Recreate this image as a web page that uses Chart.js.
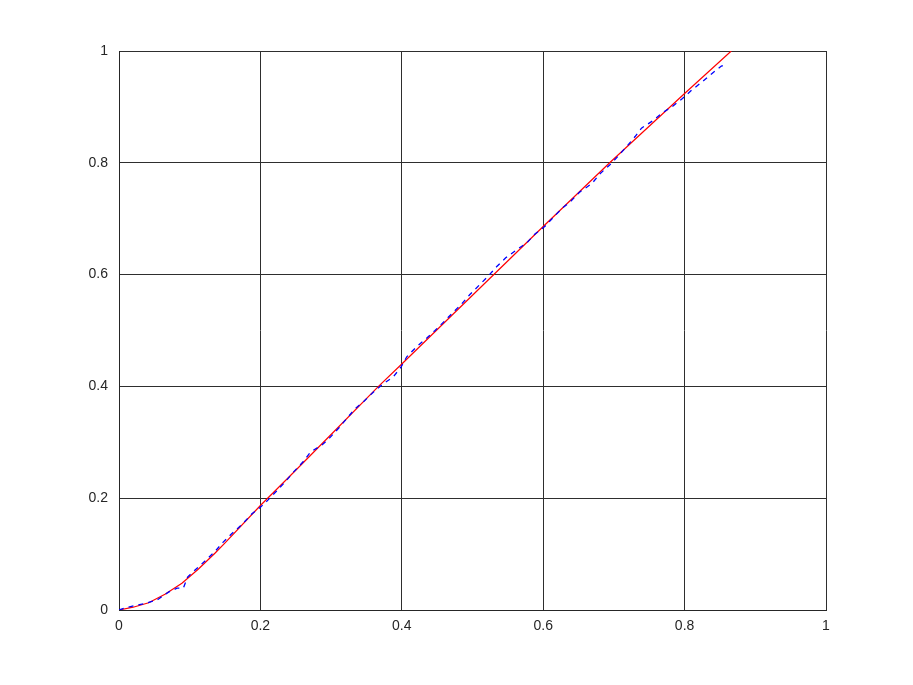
<!DOCTYPE html>
<html>
<head>
<meta charset="utf-8">
<script src="https://cdn.jsdelivr.net/npm/chart.js@4/dist/chart.umd.min.js"></script>
<style>
  html, body { margin: 0; padding: 0; background: #fff; }
  #chart { display: block; }
</style>
</head>
<body>
<canvas id="chart" width="913" height="685"></canvas>
<script>
// --- data ---
const xTicks = [0, 0.2, 0.4, 0.6, 0.8, 1];
const xTickLabels = ['0', '0.2', '0.4', '0.6', '0.8', '1'];
const yTicks = [0, 0.2, 0.4, 0.6, 0.8, 1];
const yTickLabels = ['0', '0.2', '0.4', '0.6', '0.8', '1'];

// red solid curve
const redX = [0, 0.02, 0.042, 0.065, 0.089, 0.112, 0.136, 0.15, 0.2, 0.25, 0.3, 0.367, 0.4, 0.5, 0.6, 0.694, 0.8, 0.866];
const redY = [0, 0.005, 0.013, 0.028, 0.048, 0.073, 0.102, 0.12, 0.187, 0.25, 0.314, 0.4, 0.44, 0.563, 0.686, 0.8, 0.924, 1.0];

// blue dashed curve
const blueX = [0, 0.009, 0.023, 0.038, 0.054, 0.07, 0.082, 0.091, 0.097, 0.108, 0.122, 0.136, 0.147, 0.159, 0.174, 0.188, 0.2,
  0.211, 0.223, 0.235, 0.247, 0.261, 0.271, 0.287, 0.298, 0.312, 0.323, 0.334, 0.347, 0.36, 0.373, 0.388, 0.399,
  0.407, 0.421, 0.435, 0.447, 0.459, 0.473, 0.485, 0.496, 0.511, 0.522, 0.534, 0.547, 0.562, 0.577, 0.588, 0.603,
  0.617, 0.628, 0.638, 0.652, 0.669, 0.68, 0.694, 0.706, 0.718, 0.73, 0.739, 0.756, 0.768, 0.782, 0.797, 0.81,
  0.824, 0.838, 0.852, 0.856];
const blueY = [0, 0.004, 0.008, 0.012, 0.018, 0.032, 0.039, 0.039, 0.059, 0.072, 0.088, 0.105, 0.121, 0.136, 0.153, 0.172, 0.184,
  0.197, 0.213, 0.229, 0.247, 0.266, 0.283, 0.295, 0.308, 0.327, 0.344, 0.36, 0.374, 0.39, 0.404, 0.417, 0.435,
  0.453, 0.471, 0.486, 0.5, 0.515, 0.533, 0.548, 0.564, 0.583, 0.597, 0.614, 0.63, 0.644, 0.657, 0.672, 0.687,
  0.706, 0.72, 0.73, 0.748, 0.763, 0.78, 0.796, 0.812, 0.829, 0.847, 0.862, 0.876, 0.889, 0.9, 0.915, 0.93,
  0.944, 0.959, 0.973, 0.975];

function toPoints(xs, ys) {
  return xs.map((x, i) => ({ x: x, y: ys[i] }));
}

const gridColor = '#2e2e2e';
const tickFont = { family: '"Liberation Sans", Arial, sans-serif', size: 14 };

new Chart(document.getElementById('chart'), {
  type: 'line',
  data: {
    datasets: [
      {
        data: toPoints(blueX, blueY),
        borderColor: '#0000ff',
        borderWidth: 1.3,
        borderDash: [5, 5],
        pointRadius: 0,
        tension: 0,
        fill: false
      },
      {
        data: toPoints(redX, redY),
        borderColor: '#ff0000',
        borderWidth: 1.2,
        pointRadius: 0,
        tension: 0,
        fill: false
      }
    ]
  },
  options: {
    responsive: false,
    animation: false,
    devicePixelRatio: 1,
    layout: { padding: { top: 51, right: 87, left: 0, bottom: 0 } },
    plugins: { legend: { display: false }, tooltip: { enabled: false } },
    scales: {
      x: {
        type: 'linear',
        min: 0, max: 1,
        afterBuildTicks: s => { s.ticks = xTicks.map(v => ({ value: v })); },
        afterFit: s => { s.height = 75; },
        ticks: {
          color: '#262626', font: tickFont, padding: 8, maxRotation: 0,
          callback: (v) => xTickLabels[xTicks.indexOf(v)]
        },
        grid: { color: gridColor, lineWidth: 1, drawTicks: false },
        border: { color: '#262626', width: 1 }
      },
      y: {
        type: 'linear',
        min: 0, max: 1,
        afterBuildTicks: s => { s.ticks = yTicks.map(v => ({ value: v })); },
        afterFit: s => { s.width = 119; },
        ticks: {
          color: '#262626', font: tickFont, padding: 11,
          callback: (v) => yTickLabels[yTicks.indexOf(v)]
        },
        grid: { color: gridColor, lineWidth: 1, drawTicks: false },
        border: { color: '#262626', width: 1 }
      }
    }
  }
});
</script>
</body>
</html>
